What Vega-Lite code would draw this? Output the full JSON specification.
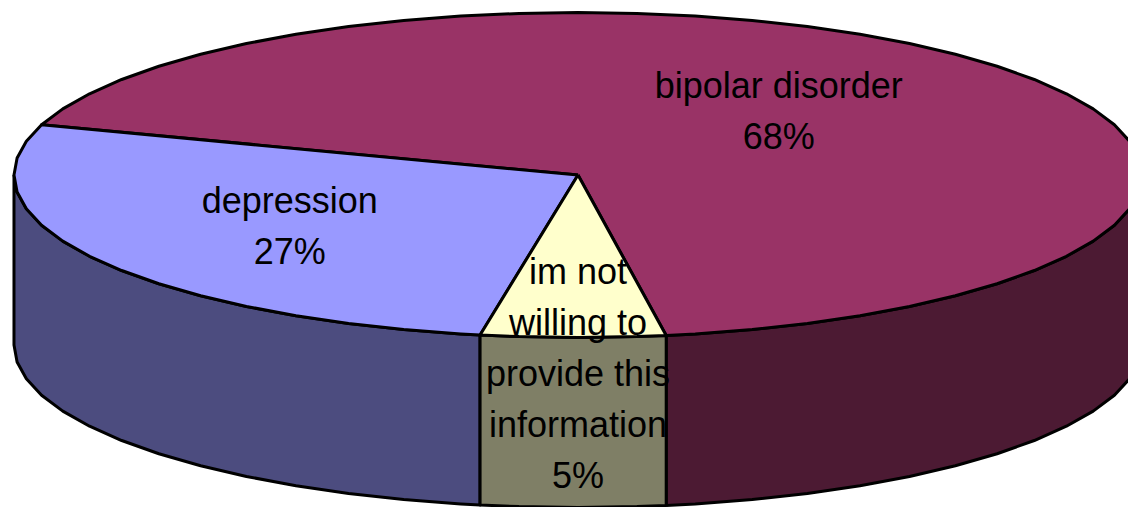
{"$schema":"https://vega.github.io/schema/vega-lite/v6.json","width":1128,"height":507,"padding":0,"autosize":"none","background":"white","config":{"view":{"stroke":null}},
"datasets":{"outline":[
{"slice":"bipolar side","seq":1,"x":15.64,"y":-203.37},{"slice":"bipolar side","seq":2,"x":20.79,"y":-202.41},{"slice":"bipolar side","seq":3,"x":30.9,"y":-199.71},{"slice":"bipolar side","seq":4,"x":40.67,"y":-195.95},{"slice":"bipolar side","seq":5,"x":50,"y":-191.2},{"slice":"bipolar side","seq":6,"x":58.78,"y":-185.5},{"slice":"bipolar side","seq":7,"x":66.91,"y":-178.91},{"slice":"bipolar side","seq":8,"x":74.31,"y":-171.51},{"slice":"bipolar side","seq":9,"x":80.9,"y":-163.38},{"slice":"bipolar side","seq":10,"x":86.6,"y":-154.6},{"slice":"bipolar side","seq":11,"x":91.35,"y":-145.27},{"slice":"bipolar side","seq":12,"x":95.11,"y":-135.5},{"slice":"bipolar side","seq":13,"x":97.81,"y":-125.39},{"slice":"bipolar side","seq":14,"x":99.45,"y":-115.05},{"slice":"bipolar side","seq":15,"x":100,"y":-104.6},{"slice":"bipolar side","seq":16,"x":100,"y":0},{"slice":"bipolar side","seq":17,"x":99.45,"y":-10.45},{"slice":"bipolar side","seq":18,"x":97.81,"y":-20.79},{"slice":"bipolar side","seq":19,"x":95.11,"y":-30.9},{"slice":"bipolar side","seq":20,"x":91.35,"y":-40.67},{"slice":"bipolar side","seq":21,"x":86.6,"y":-50},{"slice":"bipolar side","seq":22,"x":80.9,"y":-58.78},{"slice":"bipolar side","seq":23,"x":74.31,"y":-66.91},{"slice":"bipolar side","seq":24,"x":66.91,"y":-74.31},{"slice":"bipolar side","seq":25,"x":58.78,"y":-80.9},{"slice":"bipolar side","seq":26,"x":50,"y":-86.6},{"slice":"bipolar side","seq":27,"x":40.67,"y":-91.35},{"slice":"bipolar side","seq":28,"x":30.9,"y":-95.11},{"slice":"bipolar side","seq":29,"x":20.79,"y":-97.81},{"slice":"bipolar side","seq":30,"x":15.64,"y":-98.77},{"slice":"bipolar side","seq":31,"x":15.64,"y":-203.37},
{"slice":"depression side","seq":1,"x":-100,"y":0},{"slice":"depression side","seq":2,"x":-99.45,"y":-10.45},{"slice":"depression side","seq":3,"x":-97.81,"y":-20.79},{"slice":"depression side","seq":4,"x":-95.11,"y":-30.9},{"slice":"depression side","seq":5,"x":-91.35,"y":-40.67},{"slice":"depression side","seq":6,"x":-86.6,"y":-50},{"slice":"depression side","seq":7,"x":-80.9,"y":-58.78},{"slice":"depression side","seq":8,"x":-74.31,"y":-66.91},{"slice":"depression side","seq":9,"x":-66.91,"y":-74.31},{"slice":"depression side","seq":10,"x":-58.78,"y":-80.9},{"slice":"depression side","seq":11,"x":-50,"y":-86.6},{"slice":"depression side","seq":12,"x":-40.67,"y":-91.35},{"slice":"depression side","seq":13,"x":-30.9,"y":-95.11},{"slice":"depression side","seq":14,"x":-20.79,"y":-97.81},{"slice":"depression side","seq":15,"x":-17.36,"y":-98.48},{"slice":"depression side","seq":16,"x":-17.36,"y":-203.08},{"slice":"depression side","seq":17,"x":-20.79,"y":-202.41},{"slice":"depression side","seq":18,"x":-30.9,"y":-199.71},{"slice":"depression side","seq":19,"x":-40.67,"y":-195.95},{"slice":"depression side","seq":20,"x":-50,"y":-191.2},{"slice":"depression side","seq":21,"x":-58.78,"y":-185.5},{"slice":"depression side","seq":22,"x":-66.91,"y":-178.91},{"slice":"depression side","seq":23,"x":-74.31,"y":-171.51},{"slice":"depression side","seq":24,"x":-80.9,"y":-163.38},{"slice":"depression side","seq":25,"x":-86.6,"y":-154.6},{"slice":"depression side","seq":26,"x":-91.35,"y":-145.27},{"slice":"depression side","seq":27,"x":-95.11,"y":-135.5},{"slice":"depression side","seq":28,"x":-97.81,"y":-125.39},{"slice":"depression side","seq":29,"x":-99.45,"y":-115.05},{"slice":"depression side","seq":30,"x":-100,"y":-104.6},{"slice":"depression side","seq":31,"x":-100,"y":0},
{"slice":"unwilling side","seq":1,"x":-17.36,"y":-98.48},{"slice":"unwilling side","seq":2,"x":-10.45,"y":-99.45},{"slice":"unwilling side","seq":3,"x":0,"y":-100},{"slice":"unwilling side","seq":4,"x":10.45,"y":-99.45},{"slice":"unwilling side","seq":5,"x":15.64,"y":-98.77},{"slice":"unwilling side","seq":6,"x":15.64,"y":-203.37},{"slice":"unwilling side","seq":7,"x":10.45,"y":-204.05},{"slice":"unwilling side","seq":8,"x":0,"y":-204.6},{"slice":"unwilling side","seq":9,"x":-10.45,"y":-204.05},{"slice":"unwilling side","seq":10,"x":-17.36,"y":-203.08},{"slice":"unwilling side","seq":11,"x":-17.36,"y":-98.48},
{"slice":"bipolar top","seq":1,"x":0,"y":0},{"slice":"bipolar top","seq":2,"x":15.64,"y":-98.77},{"slice":"bipolar top","seq":3,"x":20.79,"y":-97.81},{"slice":"bipolar top","seq":4,"x":30.9,"y":-95.11},{"slice":"bipolar top","seq":5,"x":40.67,"y":-91.35},{"slice":"bipolar top","seq":6,"x":50,"y":-86.6},{"slice":"bipolar top","seq":7,"x":58.78,"y":-80.9},{"slice":"bipolar top","seq":8,"x":66.91,"y":-74.31},{"slice":"bipolar top","seq":9,"x":74.31,"y":-66.91},{"slice":"bipolar top","seq":10,"x":80.9,"y":-58.78},{"slice":"bipolar top","seq":11,"x":86.6,"y":-50},{"slice":"bipolar top","seq":12,"x":91.35,"y":-40.67},{"slice":"bipolar top","seq":13,"x":95.11,"y":-30.9},{"slice":"bipolar top","seq":14,"x":97.81,"y":-20.79},{"slice":"bipolar top","seq":15,"x":99.45,"y":-10.45},{"slice":"bipolar top","seq":16,"x":100,"y":0},{"slice":"bipolar top","seq":17,"x":99.45,"y":10.45},{"slice":"bipolar top","seq":18,"x":97.81,"y":20.79},{"slice":"bipolar top","seq":19,"x":95.11,"y":30.9},{"slice":"bipolar top","seq":20,"x":91.35,"y":40.67},{"slice":"bipolar top","seq":21,"x":86.6,"y":50},{"slice":"bipolar top","seq":22,"x":80.9,"y":58.78},{"slice":"bipolar top","seq":23,"x":74.31,"y":66.91},{"slice":"bipolar top","seq":24,"x":66.91,"y":74.31},{"slice":"bipolar top","seq":25,"x":58.78,"y":80.9},{"slice":"bipolar top","seq":26,"x":50,"y":86.6},{"slice":"bipolar top","seq":27,"x":40.67,"y":91.35},{"slice":"bipolar top","seq":28,"x":30.9,"y":95.11},{"slice":"bipolar top","seq":29,"x":20.79,"y":97.81},{"slice":"bipolar top","seq":30,"x":10.45,"y":99.45},{"slice":"bipolar top","seq":31,"x":0,"y":100},{"slice":"bipolar top","seq":32,"x":-10.45,"y":99.45},{"slice":"bipolar top","seq":33,"x":-20.79,"y":97.81},{"slice":"bipolar top","seq":34,"x":-30.9,"y":95.11},{"slice":"bipolar top","seq":35,"x":-40.67,"y":91.35},{"slice":"bipolar top","seq":36,"x":-50,"y":86.6},{"slice":"bipolar top","seq":37,"x":-58.78,"y":80.9},{"slice":"bipolar top","seq":38,"x":-66.91,"y":74.31},{"slice":"bipolar top","seq":39,"x":-74.31,"y":66.91},{"slice":"bipolar top","seq":40,"x":-80.9,"y":58.78},{"slice":"bipolar top","seq":41,"x":-86.6,"y":50},{"slice":"bipolar top","seq":42,"x":-91.35,"y":40.67},{"slice":"bipolar top","seq":43,"x":-95.11,"y":30.9},{"slice":"bipolar top","seq":44,"x":0,"y":0},
{"slice":"depression top","seq":1,"x":0,"y":0},{"slice":"depression top","seq":2,"x":-95.11,"y":30.9},{"slice":"depression top","seq":3,"x":-97.81,"y":20.79},{"slice":"depression top","seq":4,"x":-99.45,"y":10.45},{"slice":"depression top","seq":5,"x":-100,"y":0},{"slice":"depression top","seq":6,"x":-99.45,"y":-10.45},{"slice":"depression top","seq":7,"x":-97.81,"y":-20.79},{"slice":"depression top","seq":8,"x":-95.11,"y":-30.9},{"slice":"depression top","seq":9,"x":-91.35,"y":-40.67},{"slice":"depression top","seq":10,"x":-86.6,"y":-50},{"slice":"depression top","seq":11,"x":-80.9,"y":-58.78},{"slice":"depression top","seq":12,"x":-74.31,"y":-66.91},{"slice":"depression top","seq":13,"x":-66.91,"y":-74.31},{"slice":"depression top","seq":14,"x":-58.78,"y":-80.9},{"slice":"depression top","seq":15,"x":-50,"y":-86.6},{"slice":"depression top","seq":16,"x":-40.67,"y":-91.35},{"slice":"depression top","seq":17,"x":-30.9,"y":-95.11},{"slice":"depression top","seq":18,"x":-20.79,"y":-97.81},{"slice":"depression top","seq":19,"x":-17.36,"y":-98.48},{"slice":"depression top","seq":20,"x":0,"y":0},
{"slice":"unwilling top","seq":1,"x":0,"y":0},{"slice":"unwilling top","seq":2,"x":-17.36,"y":-98.48},{"slice":"unwilling top","seq":3,"x":-10.45,"y":-99.45},{"slice":"unwilling top","seq":4,"x":0,"y":-100},{"slice":"unwilling top","seq":5,"x":10.45,"y":-99.45},{"slice":"unwilling top","seq":6,"x":15.64,"y":-98.77},{"slice":"unwilling top","seq":7,"x":0,"y":0}
],
"labels":[
{"label":"bipolar disorder\n68%","x":35.6,"y":54.0},
{"label":"depression\n27%","x":-51.1,"y":-16.8},
{"label":"im not\nwilling to\nprovide this\ninformation\n5%","x":0,"y":-60.0}
]},
"layer":[
{"data":{"name":"outline"},"mark":{"type":"line","stroke":"black","strokeWidth":3,"strokeJoin":"round","clip":true},
"encoding":{
"x":{"field":"x","type":"quantitative","axis":null,"scale":{"domain":[-102.48,97.52],"nice":false,"zero":false}},
"y":{"field":"y","type":"quantitative","axis":null,"scale":{"domain":[-204.3,107.7],"nice":false,"zero":false}},
"order":{"field":"seq","type":"quantitative"},
"detail":{"field":"slice"},
"fill":{"field":"slice","type":"nominal","legend":null,"scale":{"domain":["bipolar side","depression side","unwilling side","bipolar top","depression top","unwilling top"],"range":["#4C1A33","#4C4C7F","#7F7F66","#993366","#9999FF","#FFFFCC"]}}
}},
{"data":{"name":"labels"},"mark":{"type":"text","font":"Liberation Sans","fontSize":36,"lineHeight":51,"lineBreak":"\n","align":"center","baseline":"middle","color":"black"},
"encoding":{
"x":{"field":"x","type":"quantitative"},
"y":{"field":"y","type":"quantitative"},
"text":{"field":"label"}
}}
]}
